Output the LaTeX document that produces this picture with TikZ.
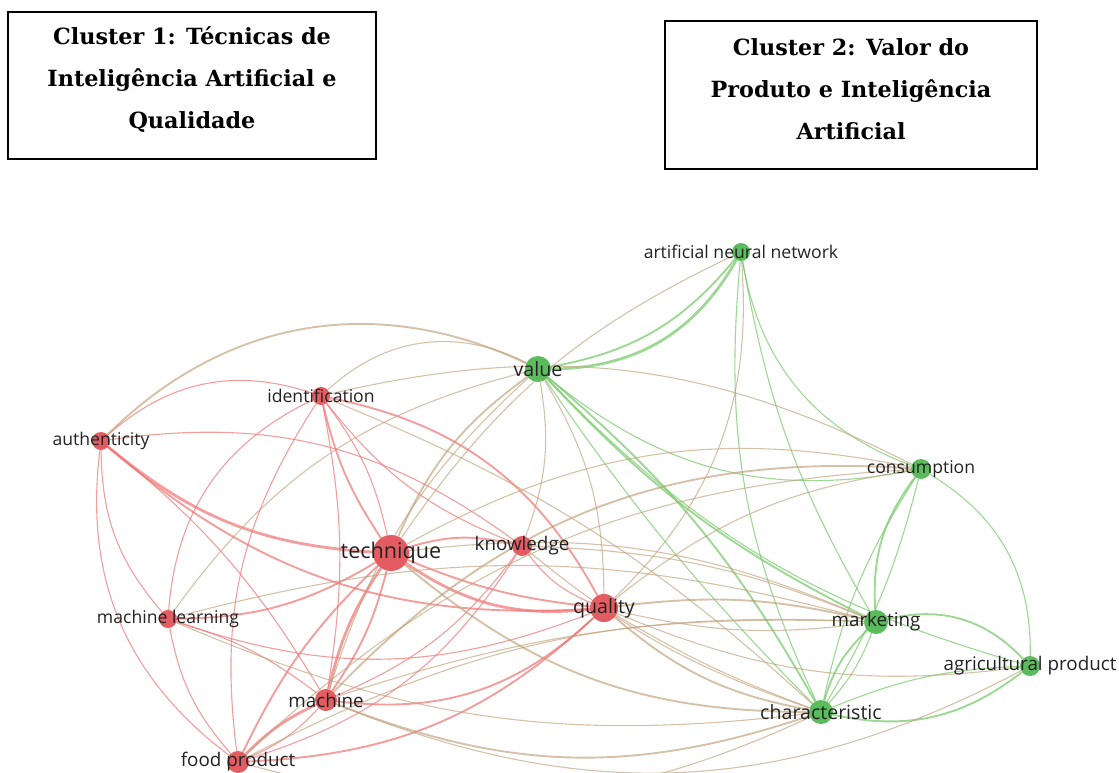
\documentclass[tikz,border=0pt]{standalone}
\usepackage{fontspec}
\setmainfont{Open Sans}
\newfontfamily\boxfont{DejaVu Serif}

\pgfdeclarelayer{edges}
\pgfsetlayers{edges,main}

\definecolor{kwred}{HTML}{E25C61}
\definecolor{kwgreen}{HTML}{5CBB5C}
\definecolor{edgered}{HTML}{F07474}
\definecolor{edgegreen}{HTML}{74C866}
\definecolor{edgemix}{HTML}{BFA078}
\definecolor{kwtext}{HTML}{222222}

\tikzstyle{kw-red}=[circle, inner sep=0pt, fill=kwred]
\tikzstyle{kw-green}=[circle, inner sep=0pt, fill=kwgreen]
\tikzstyle{lbl-s}=[text=kwtext, font=\fontsize{17.6}{18}\selectfont]
\tikzstyle{lbl-m}=[text=kwtext, font=\fontsize{18.8}{19}\selectfont]
\tikzstyle{lbl-l}=[text=kwtext, font=\fontsize{19.6}{20}\selectfont]
\tikzstyle{lbl-xl}=[text=kwtext, font=\fontsize{21.6}{22}\selectfont]
\tikzstyle{e-red}=[draw=edgered, draw opacity=0.7]
\tikzstyle{e-green}=[draw=edgegreen, draw opacity=0.7]
\tikzstyle{e-mix}=[draw=edgemix, draw opacity=0.65]
\tikzstyle{w1}=[line width=1.1pt]
\tikzstyle{w2}=[line width=1.9pt]
\tikzstyle{w3}=[line width=2.8pt]
\tikzstyle{cluster-box}=[draw, line width=1.3pt, inner sep=0pt]
\tikzstyle{cluster-title}=[align=center, inner sep=0pt,
  font=\boxfont\bfseries\fontsize{22.3}{42}\selectfont]

\begin{document}
\begin{tikzpicture}[x=1pt, y=-1pt]
  \useasboundingbox (0,0) rectangle (1119,773);

  % cluster titles
  \node (box1) at (192,85.5) [cluster-box, minimum width=368pt, minimum height=147pt] {};
  \node (title1) at (192,80) [cluster-title]
        {Cluster 1: Técnicas de\\Inteligência Artificial e\\Qualidade};
  \node (box2) at (851,95) [cluster-box, minimum width=372pt, minimum height=148pt] {};
  \node (title2) at (851,89.5) [cluster-title]
        {Cluster 2: Valor do\\Produto e Inteligência\\Artificial};

  % keywords, cluster 1
  \node (authenticity) at (101,441) [kw-red, minimum size=18pt, label={[lbl-s]center:authenticity}] {};
  \node (identification) at (321,396) [kw-red, minimum size=18pt, label={[lbl-s]center:identification}] {};
  \node (machinelearning) at (168,619) [kw-red, minimum size=18pt, label={[lbl-s]center:machine learning}] {};
  \node (foodproduct) at (238,762) [kw-red, minimum size=22pt, label={[lbl-m]center:food product}] {};
  \node (machine) at (326,700) [kw-red, minimum size=22pt, label={[lbl-m]center:machine}] {};
  \node (technique) at (391,553) [kw-red, minimum size=36pt, label={[lbl-xl]center:technique}] {};
  \node (knowledge) at (522,546) [kw-red, minimum size=20pt, label={[lbl-m]center:knowledge}] {};
  \node (quality) at (604,608) [kw-red, minimum size=28pt, label={[lbl-l]center:quality}] {};

  % keywords, cluster 2
  \node (ann) at (741,252) [kw-green, minimum size=18pt, label={[lbl-s]center:artificial neural network}] {};
  \node (value) at (538,369) [kw-green, minimum size=26pt, label={[lbl-l]center:value}] {};
  \node (consumption) at (921,469) [kw-green, minimum size=20pt, label={[lbl-s]center:consumption}] {};
  \node (marketing) at (876,622) [kw-green, minimum size=24pt, label={[lbl-m]center:marketing}] {};
  \node (agricultural) at (1030,666) [kw-green, minimum size=20pt, label={[lbl-m]center:agricultural product}] {};
  \node (characteristic) at (821,712) [kw-green, minimum size=24pt, label={[lbl-l]center:characteristic}] {};

  \begin{pgfonlayer}{edges}
    \clip (0,0) rectangle (1119,773);
    % links within cluster 1
    \draw[e-red, w1] (authenticity) to[bend left=30] (identification);
    \draw[e-red, w3] (authenticity) to[bend right=18] (technique);
    \draw[e-red, w2] (authenticity) to[bend right=22] (quality);
    \draw[e-red, w1] (authenticity) to[bend left=22] (knowledge);
    \draw[e-red, w1] (authenticity) to[bend right=20] (machinelearning);
    \draw[e-red, w1] (authenticity) to[bend right=30] (foodproduct);
    \draw[e-red, w1] (authenticity) to[bend left=10] (machine);
    \draw[e-red, w2] (identification) to[bend right=10] (technique);
    \draw[e-red, w1] (identification) to[bend left=12] (technique);
    \draw[e-red, w1] (identification) to[bend left=10] (machine);
    \draw[e-red, w1] (identification) to[bend right=15] (knowledge);
    \draw[e-red, w2] (identification) to[bend left=25] (quality);
    \draw[e-red, w1] (identification) to[bend right=30] (machinelearning);
    \draw[e-red, w1] (identification) to[bend right=20] (foodproduct);
    \draw[e-red, w2] (technique) to[bend left=15] (knowledge);
    \draw[e-red, w3] (technique) to[bend right=20] (quality);
    \draw[e-red, w2] (technique) to[bend right=8] (quality);
    \draw[e-red, w2] (technique) to[bend left=15] (machinelearning);
    \draw[e-red, w3] (technique) to[bend right=10] (machine);
    \draw[e-red, w2] (technique) to[bend left=10] (machine);
    \draw[e-red, w2] (technique) to[bend right=10] (foodproduct);
    \draw[e-red, w1] (knowledge) to[bend right=15] (quality);
    \draw[e-red, w1] (knowledge) to[bend left=15] (machine);
    \draw[e-red, w1] (knowledge) to[bend left=20] (foodproduct);
    \draw[e-red, w2] (quality) to[bend left=25] (machine);
    \draw[e-red, w1] (quality) to[bend left=20] (machinelearning);
    \draw[e-red, w2] (quality) to[bend left=20] (foodproduct);
    \draw[e-red, w1] (machinelearning) to[bend left=10] (machine);
    \draw[e-red, w1] (machinelearning) to[bend right=15] (foodproduct);
    \draw[e-red, w3] (machine) to[bend right=10] (foodproduct);
    \draw[e-red, w1] (machine) to[bend left=12] (foodproduct);
    % links within cluster 2
    \draw[e-green, w3] (value) to[bend right=30] (ann);
    \draw[e-green, w2] (value) to[bend right=20] (ann);
    \draw[e-green, w1] (ann) to[bend right=30] (consumption);
    \draw[e-green, w1] (ann) to[bend right=15] (characteristic);
    \draw[e-green, w1] (ann) to[bend right=10] (marketing);
    \draw[e-green, w1] (value) to[bend right=25] (consumption);
    \draw[e-green, w2] (value) to[bend right=10] (marketing);
    \draw[e-green, w2] (value) to[bend left=10] (characteristic);
    \draw[e-green, w1] (value) to[bend right=5] (characteristic);
    \draw[e-green, w1] (value) to[bend right=15] (agricultural);
    \draw[e-green, w2] (consumption) to[bend right=20] (marketing);
    \draw[e-green, w1] (consumption) to[bend right=10] (characteristic);
    \draw[e-green, w1] (consumption) to[bend left=8] (characteristic);
    \draw[e-green, w1] (consumption) to[bend left=30] (agricultural);
    \draw[e-green, w2] (marketing) to[bend left=30] (agricultural);
    \draw[e-green, w2] (marketing) to[bend right=15] (characteristic);
    \draw[e-green, w1] (marketing) to[bend left=10] (characteristic);
    \draw[e-green, w2] (characteristic) to[bend right=25] (agricultural);
    \draw[e-green, w1] (characteristic) to[bend left=10] (agricultural);
    % links between the clusters
    \draw[e-mix, w2] (authenticity) to[bend left=35] (value);
    \draw[e-mix, w1] (identification) to[bend left=35] (value);
    \draw[e-mix, w1] (identification) to[bend left=20] (consumption);
    \draw[e-mix, w1] (identification) to[bend left=10] (characteristic);
    \draw[e-mix, w2] (technique) to[bend left=15] (value);
    \draw[e-mix, w1] (technique) to[bend left=15] (ann);
    \draw[e-mix, w1] (technique) to[bend left=20] (consumption);
    \draw[e-mix, w1] (technique) to[bend left=15] (marketing);
    \draw[e-mix, w2] (technique) to[bend right=20] (characteristic);
    \draw[e-mix, w1] (knowledge) to[bend right=15] (value);
    \draw[e-mix, w1] (knowledge) to[bend right=10] (characteristic);
    \draw[e-mix, w1] (knowledge) to[bend left=10] (marketing);
    \draw[e-mix, w1] (quality) to[bend right=15] (value);
    \draw[e-mix, w1] (quality) to[bend right=25] (ann);
    \draw[e-mix, w2] (quality) to[bend left=10] (marketing);
    \draw[e-mix, w1] (quality) to[bend right=10] (marketing);
    \draw[e-mix, w2] (quality) to[bend right=15] (characteristic);
    \draw[e-mix, w1] (quality) to[bend right=5] (characteristic);
    \draw[e-mix, w1] (quality) to[bend left=15] (consumption);
    \draw[e-mix, w1] (quality) to[bend right=15] (agricultural);
    \draw[e-mix, w2] (machine) to[bend left=25] (consumption);
    \draw[e-mix, w1] (machine) to[bend left=15] (value);
    \draw[e-mix, w2] (machine) to[bend right=20] (characteristic);
    \draw[e-mix, w1] (machine) to[bend left=10] (marketing);
    \draw[e-mix, w1] (machine) to[bend right=25] (agricultural);
    \draw[e-mix, w1] (foodproduct) to[bend right=20] (characteristic);
    \draw[e-mix, w1] (foodproduct) to[bend left=15] (marketing);
    \draw[e-mix, w1] (foodproduct) to[bend left=20] (consumption);
    \draw[e-mix, w1] (machinelearning) to[bend right=15] (characteristic);
    \draw[e-mix, w1] (machinelearning) to[bend left=20] (value);
    \draw[e-mix, w1] (machinelearning) to[bend left=15] (marketing);
  \end{pgfonlayer}
\end{tikzpicture}
\end{document}
